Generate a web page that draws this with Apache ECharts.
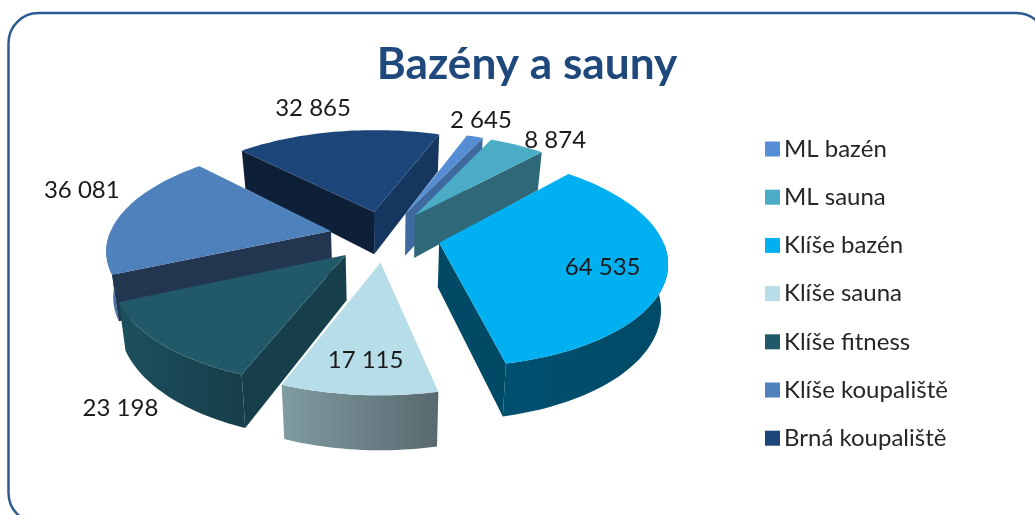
<!DOCTYPE html>
<html>
<head>
<meta charset="utf-8">
<style>html,body{margin:0;padding:0;background:#fff}#c{width:1035px;height:515px}</style>
<script src="https://cdn.jsdelivr.net/npm/echarts@6/dist/echarts.min.js"></script>
</head>
<body>
<div id="c"></div>
<script>
// ---- data ----
const categories = ['ML bazén','ML sauna','Klíše bazén','Klíše sauna','Klíše fitness','Klíše koupaliště','Brná koupaliště'];
const values = [2645, 8874, 64535, 17115, 23198, 36081, 32865];

// ---- styles ----
const topColors  = ['#558ED5','#4BACC6','#00B0F0','#B7DEE8','#215968','#4F81BD','#1C4679'];
const startFace  = ['#3E6A9F','#2F6878','#003F5C','#58696F','#173F4B','#223650','#0D2038'];
const endFace    = ['#3E6A9F','#2F6878','#004A66','#7F9AA1','#1B4C59','#3F6FA6','#15365F'];
const wallStops  = [
  ['#3E6A9F','#3E6A9F'],['#2F6878','#2F6878'],['#00506F','#004A66'],
  ['#809BA2','#58696F'],['#1C505D','#173E4A'],['#4472A8','#4472A8'],['#15365F','#15365F']
];
const drawOrder  = [6,0,1,5,4,2,3];            // painter's order, far to near
const labelShift = [[6,-16.5],[38,-4.5],[-65,-3.5],[7,-35],[-41,64],[-41,-22],[-24,-23]];

// ---- 3D projection of the exploded pie ----
const startAngle = 20, explode = 0.25, persp = 0.16;
const cx = 385, cy = 236, radX = 222, radY = 102, depth = 44, bottomShrink = 0.975;
const rad = d => d * Math.PI / 180;
const total = values.reduce((a, b) => a + b, 0);

function project(angle, r, mid, lower) {
  const u = r * Math.sin(rad(angle)) + explode * Math.sin(rad(mid));
  const v = r * Math.cos(rad(angle)) + explode * Math.cos(rad(mid));
  const k = 1 + persp * v;
  let x = cx + radX * u / k, y = cy - radY * v / k;
  if (lower) { x = cx + (x - cx) * bottomShrink; y += depth / k; }
  return [x, y];
}
function sliceRange(i) {
  let s = startAngle;
  for (let j = 0; j < i; j++) s += values[j] / total * 360;
  return [s, s + values[i] / total * 360];
}
const fmt = v => String(v).replace(/\B(?=(\d{3})+$)/g, ' ');

function renderSlice(i) {
  return function (params, api) {
    const [a0, a1] = sliceRange(i), mid = (a0 + a1) / 2;
    const steps = Math.max(4, Math.ceil((a1 - a0) / 1.5));
    const angs = []; for (let k = 0; k <= steps; k++) angs.push(a0 + (a1 - a0) * k / steps);
    const T = a => project(a, 1, mid, false), B = a => project(a, 1, mid, true);
    const apexT = project(0, 0, mid, false), apexB = project(0, 0, mid, true);
    const kids = [];
    const poly = (pts, fill) => kids.push({ type: 'polygon', shape: { points: pts }, style: { fill: fill, stroke: null } });

    // outer wall: only the part of the rim on the viewer's side
    const front = angs.filter(a => Math.cos(rad(a)) < 0.02);
    if (front.length > 1) {
      const pts = front.map(T).concat(front.slice().reverse().map(B));
      const w = wallStops[i];
      poly(pts, new echarts.graphic.LinearGradient(0, 0, 1, 0, [{ offset: 0, color: w[0] }, { offset: 1, color: w[1] }]));
    }
    // radial cut faces: visible when their outward normal points to the viewer
    if (Math.cos(rad(a0 - 90)) < 0) poly([apexT, T(a0), B(a0), apexB], startFace[i]);
    if (Math.cos(rad(a1 + 90)) < 0) poly([apexT, T(a1), B(a1), apexB], endFace[i]);
    // top
    poly([apexT].concat(angs.map(T)), topColors[i]);
    // value label
    const rim = T(mid), sh = labelShift[i];
    kids.push({ type: 'text', z2: 100, style: {
      text: fmt(api.value(0)), x: rim[0] + sh[0], y: rim[1] + sh[1], align: 'center', verticalAlign: 'middle',
      fontFamily: 'Lato', fontSize: 24, fill: '#1a1a1a'
    }});
    return { type: 'group', children: kids };
  };
}

const series = categories.map((name, i) => ({
  name: name,
  type: 'custom',
  coordinateSystem: 'none',
  z: 2 + drawOrder.indexOf(i),
  silent: true,
  itemStyle: { color: topColors[i] },
  data: [[values[i]]],
  renderItem: renderSlice(i)
}));

const chart = echarts.init(document.getElementById('c'), null, { renderer: 'canvas' });
chart.setOption({
  animation: false,
  backgroundColor: '#ffffff',
  title: {
    text: 'Bazény a sauny', left: 522, top: 38, textAlign: 'center',
    textStyle: { fontFamily: 'Lato', fontWeight: 'bold', fontSize: 44.2, color: '#1F497D' }
  },
  legend: {
    orient: 'vertical', left: 760, top: 132, icon: 'rect',
    itemWidth: 15, itemHeight: 15, itemGap: 24.2,
    data: categories, selectedMode: false,
    textStyle: { fontFamily: 'Lato', fontSize: 24, color: '#262626', padding: [0, 0, 0, -1] }
  },
  graphic: [{
    type: 'rect', silent: true, z: 0,
    shape: { x: 8.5, y: 13, width: 1038, height: 510, r: 30 },
    style: { fill: '#ffffff', stroke: '#2C5A94', lineWidth: 2.5 }
  }],
  series: series
});
</script>
</body>
</html>
